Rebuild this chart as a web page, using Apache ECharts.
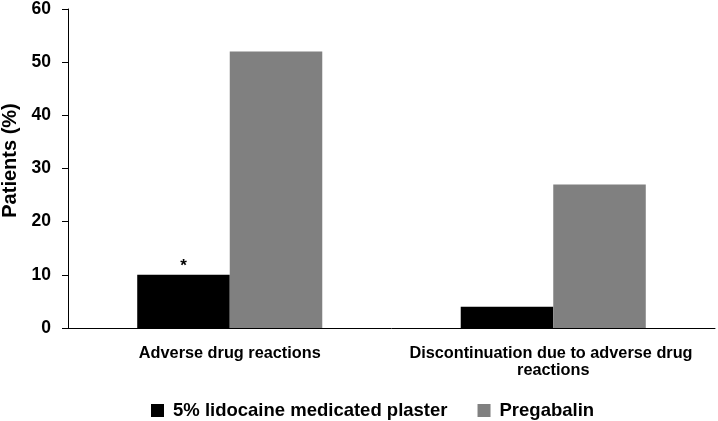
<!DOCTYPE html>
<html>
<head>
<meta charset="utf-8">
<script src="https://cdn.jsdelivr.net/npm/echarts@6/dist/echarts.min.js"></script>
<style>
html,body{margin:0;padding:0;background:#fff;}
#c{width:718px;height:421px;}
</style>
</head>
<body>
<div id="c"></div>
<script>
const categories = ['Adverse drug reactions', 'Discontinuation due to adverse drug reactions'];
const seriesNames = ['5% lidocaine medicated plaster', 'Pregabalin'];
const lidocaine = [10, 4];
const pregabalin = [52, 27];
const lidocaineMarks = ['*', ''];
const yMin = 0, yMax = 60, yInterval = 10;

const FONT = '"Liberation Sans", Arial, sans-serif';
const chart = echarts.init(document.getElementById('c'), null, {renderer: 'canvas'});
chart.setOption({
  animation: false,
  backgroundColor: '#fff',
  grid: {left: 68, right: 3, top: 9, bottom: 93, containLabel: false, outerBoundsMode: 'none'},
  legend: {
    data: seriesNames,
    left: 151, top: 401,
    itemWidth: 13, itemHeight: 13, itemGap: 30,
    icon: 'rect',
    padding: 0,
    textStyle: {fontFamily: FONT, fontWeight: 'bold', fontSize: 18.5, color: '#000', padding: [0, 0, 0, 4]}
  },
  xAxis: {
    type: 'category',
    data: categories,
    axisLine: {lineStyle: {color: '#000', width: 1}},
    axisTick: {show: false},
    axisLabel: {
      color: '#000', fontFamily: FONT, fontWeight: 'bold', fontSize: 16.3,
      margin: 17, width: 296, overflow: 'break', lineHeight: 17, interval: 0
    }
  },
  yAxis: {
    type: 'value',
    min: yMin, max: yMax, interval: yInterval,
    name: 'Patients (%)',
    nameLocation: 'middle',
    nameGap: 45,
    nameTextStyle: {color: '#000', fontFamily: FONT, fontWeight: 'bold', fontSize: 20, padding: [0, 0, 0, 16]},
    axisLine: {show: true, lineStyle: {color: '#000', width: 1}},
    axisTick: {show: true, length: 6, lineStyle: {color: '#000'}},
    splitLine: {show: false},
    axisLabel: {color: '#000', fontFamily: FONT, fontWeight: 'bold', fontSize: 17.5, margin: 17}
  },
  series: [
    {
      name: seriesNames[0], type: 'bar', data: lidocaine,
      barGap: '0%', barCategoryGap: '42.8%',
      itemStyle: {color: '#000'},
      label: {
        show: true, position: 'top', distance: 0,
        formatter: p => lidocaineMarks[p.dataIndex],
        color: '#000', fontFamily: FONT, fontWeight: 'bold', fontSize: 17
      }
    },
    {
      name: seriesNames[1], type: 'bar', data: pregabalin,
      barGap: '0%', barCategoryGap: '42.8%',
      itemStyle: {color: '#808080'}
    }
  ]
});
</script>
</body>
</html>
